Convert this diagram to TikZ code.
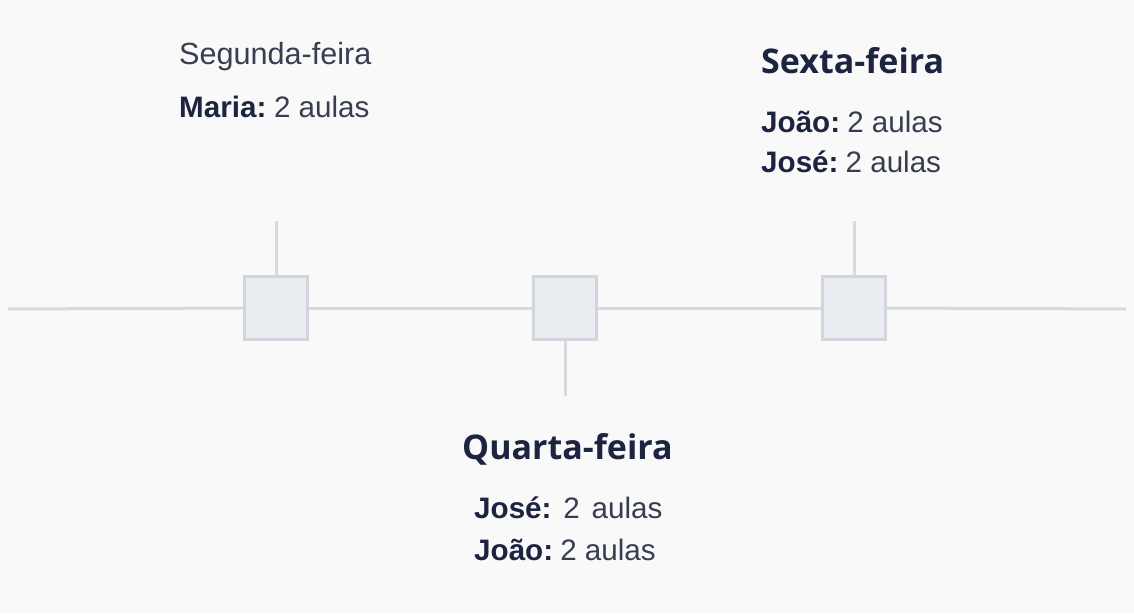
\documentclass[tikz,border=0pt]{standalone}
\usepackage{fontspec}
\setmainfont{Liberation Sans}
\newfontfamily\headfont{Open Sans}
\definecolor{bgc}{HTML}{F9F9F9}
\definecolor{linec}{HTML}{D6D9DF}
\definecolor{boxfill}{HTML}{E9ECF1}
\definecolor{boxline}{HTML}{D2D5DB}
\definecolor{darktxt}{HTML}{1C2440}
\definecolor{regtxt}{HTML}{383E50}
\begin{document}
\begin{tikzpicture}[x=1pt,y=-1pt,
  daybox/.style={draw=boxline,fill=boxfill,line width=2.5pt,minimum size=63pt,inner sep=0pt},
  conn/.style={draw=linec,line width=3pt},
  txt/.style={anchor=base west,inner sep=0pt,text=regtxt,font=\fontsize{29.6}{34}\selectfont},
  head/.style={anchor=base west,inner sep=0pt,text=darktxt,font=\headfont\bfseries\fontsize{34}{40}\selectfont}]
\fill[bgc] (0,0) rectangle (1134,613);
\useasboundingbox (0,0) rectangle (1134,613);
\coordinate (L) at (8,309);
\coordinate (R) at (1126,309);
\node[daybox] (b1) at (276,308) {};
\node[daybox] (b2) at (565,308) {};
\node[daybox] (b3) at (854,308) {};
\coordinate (t1) at (276,221);
\coordinate (t2) at (565,396);
\coordinate (t3) at (854,221);
\draw[conn] (L) -- (b1.west);
\draw[conn] (b1.east) -- (b2.west);
\draw[conn] (b2.east) -- (b3.west);
\draw[conn] (b3.east) -- (R);
\draw[conn] (b1.north) -- (t1);
\draw[conn] (b2.south) -- (t2);
\draw[conn] (b3.north) -- (t3);
% Segunda
\node[txt,font=\fontsize{30.6}{34}\selectfont] (seg) at (179,64) {Segunda-feira};
\node[txt] (maria) at (179,117) {\textbf{\color{darktxt}Maria:}\hspace{0.26em}2 aulas};
% Sexta
\node[head] (sex) at (761,73) {Sexta-feira};
\node[txt] (joao1) at (761,132) {\textbf{\color{darktxt}João:}\hspace{0.24em}2 aulas};
\node[txt] (jose1) at (761,172) {\textbf{\color{darktxt}José:}\hspace{0.24em}2 aulas};
% Quarta
\node[head] (qua) at (462,459) {Quarta-feira};
\node[txt] (jose2) at (474,518) {\textbf{\color{darktxt}José:}\hspace{0.4em}2\hspace{0.4em}aulas};
\node[txt] (joao2) at (474,560) {\textbf{\color{darktxt}João:}\hspace{0.24em}2 aulas};
\end{tikzpicture}
\end{document}
